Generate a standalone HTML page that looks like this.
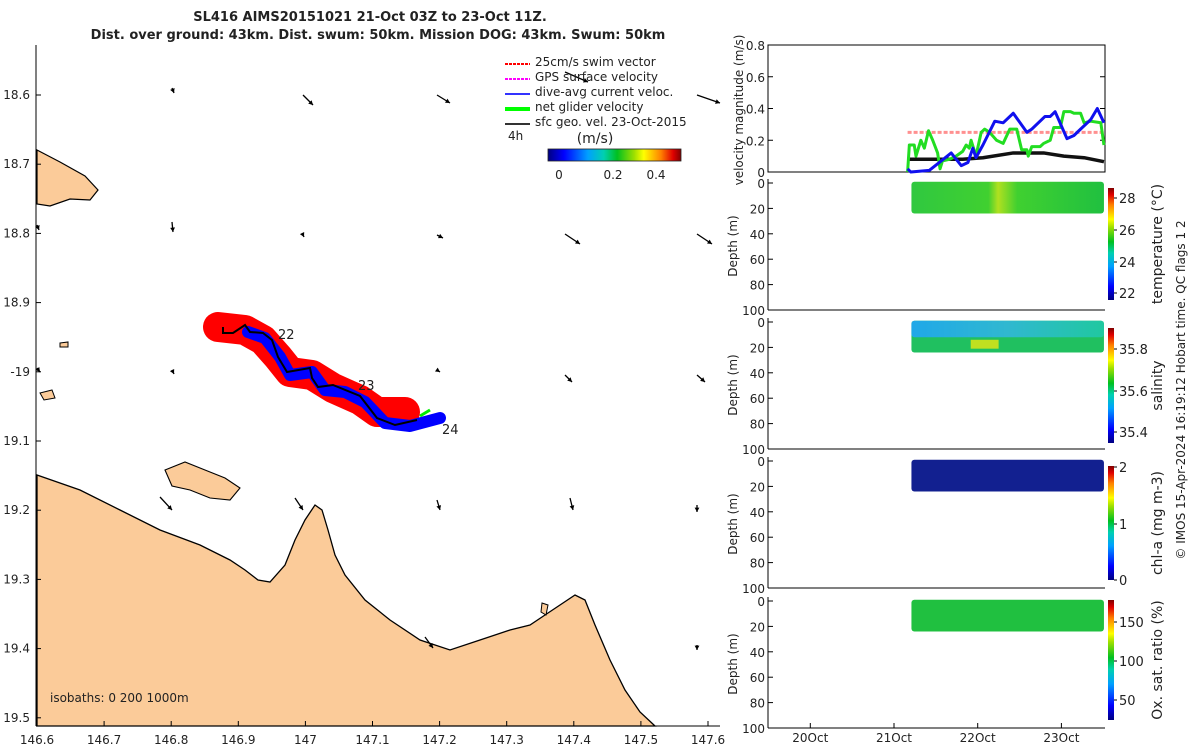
<!DOCTYPE html>
<html><head><meta charset="utf-8"><style>
body{margin:0;background:#fff;}
svg text{font-family:"DejaVu Sans","Liberation Sans",sans-serif;fill:#222;}
</style></head><body>
<svg id="s" width="1200" height="750" viewBox="0 0 1200 750" xmlns="http://www.w3.org/2000/svg">
<defs>
<linearGradient id="jetV" x1="0" y1="1" x2="0" y2="0">
<stop offset="0" stop-color="#000080"/><stop offset="0.12" stop-color="#0000ff"/><stop offset="0.3" stop-color="#00a0ff"/><stop offset="0.42" stop-color="#00d0b0"/><stop offset="0.52" stop-color="#00c020"/><stop offset="0.65" stop-color="#a0e000"/><stop offset="0.72" stop-color="#ffff00"/><stop offset="0.85" stop-color="#ff8000"/><stop offset="0.94" stop-color="#e00000"/><stop offset="1" stop-color="#800000"/></linearGradient>
<linearGradient id="jetH" x1="0" y1="0" x2="1" y2="0">
<stop offset="0" stop-color="#000080"/><stop offset="0.12" stop-color="#0000ff"/><stop offset="0.3" stop-color="#00a0ff"/><stop offset="0.42" stop-color="#00d0b0"/><stop offset="0.52" stop-color="#00c020"/><stop offset="0.65" stop-color="#a0e000"/><stop offset="0.72" stop-color="#ffff00"/><stop offset="0.85" stop-color="#ff8000"/><stop offset="0.94" stop-color="#e00000"/><stop offset="1" stop-color="#800000"/></linearGradient>
<linearGradient id="tempG" x1="0" y1="0" x2="1" y2="0"><stop offset="0" stop-color="#30c840"/><stop offset="0.4" stop-color="#40d030"/><stop offset="0.45" stop-color="#b0e020"/><stop offset="0.55" stop-color="#40d030"/><stop offset="1" stop-color="#20c040"/></linearGradient>
<linearGradient id="salTop" x1="0" y1="0" x2="1" y2="0"><stop offset="0" stop-color="#20a8e8"/><stop offset="0.5" stop-color="#30b8d0"/><stop offset="1" stop-color="#20c8a0"/></linearGradient>
</defs>
<g>
<text x="370" y="21" font-size="13" font-weight="bold" text-anchor="middle">SL416 AIMS20151021 21-Oct 03Z to 23-Oct 11Z.</text>
<text x="378" y="39" font-size="13" font-weight="bold" text-anchor="middle">Dist. over ground: 43km. Dist. swum: 50km. Mission DOG: 43km. Swum: 50km</text>
</g>
<g id="map">
<path fill="#fbcb99" stroke="#000" stroke-width="1.3" d="M37,475 L80,490 L120,510 L160,530 L200,545 L230,560 L245,570 L258,580 L270,582 L285,565 L295,540 L305,520 L315,505 L322,510 L328,530 L335,555 L345,575 L365,600 L390,620 L420,640 L450,650 L480,640 L510,630 L530,625 L545,615 L560,605 L575,595 L585,600 L595,625 L610,660 L625,690 L640,712 L655,726 L37,726 Z"/>
<path fill="#fbcb99" stroke="#000" stroke-width="1.2" d="M37,150 L60,162 L85,176 L98,190 L90,200 L70,199 L50,206 L37,204 Z"/>
<path fill="#fbcb99" stroke="#000" stroke-width="1.1" d="M165,470 L185,462 L205,470 L225,478 L240,488 L230,500 L210,498 L190,490 L172,486 Z"/>
<path fill="#fbcb99" stroke="#000" stroke-width="1" d="M40,393 L52,390 L55,398 L44,400 Z"/>
<path fill="#fbcb99" stroke="#000" stroke-width="1" d="M60,343 L68,342 L68,347 L60,347 Z"/>
<path fill="#fbcb99" stroke="#000" stroke-width="1" d="M542,603 L548,605 L546,615 L541,612 Z"/>
<g id="vecs"></g>
<g>
<polyline fill="none" stroke="#ff0000" stroke-width="30" stroke-linejoin="round" stroke-linecap="round" stroke-dasharray="none" points="218,327 245,330 263,340 278,357 290,372 312,375 333,388 360,400 377,412 405,412"/>
<polyline fill="none" stroke="#0000ff" stroke-width="12" stroke-linejoin="round" stroke-linecap="round" points="248,332 265,338 280,357 290,375 312,372 325,390 345,392 365,402 385,423 410,426 440,418"/>
<line x1="420" y1="416" x2="430" y2="410" stroke="#00ee00" stroke-width="3"/>
<polyline fill="none" stroke="#000" stroke-width="2" points="223,327 223,333 233,333 245,325 250,332 263,333 272,340 278,357 287,372 310,368 312,378 318,387 333,385 360,396 377,418 395,425 417,420"/>
<text x="278" y="339" font-size="13">22</text>
<text x="358" y="390" font-size="13">23</text>
<text x="442" y="434" font-size="13">24</text>
</g>
<line x1="36" y1="45" x2="36" y2="726" stroke="#000"/>
<line x1="36" y1="726" x2="720" y2="726" stroke="#000"/>
<g id="mapTicks"></g>
<text x="50" y="702" font-size="12">isobaths: 0   200  1000m</text>
<g>
<g><line x1="505" y1="64" x2="530" y2="64" stroke="#f00" stroke-width="2" stroke-dasharray="3,1"/><text x="535" y="66" font-size="12">25cm/s swim vector</text></g>
<g><line x1="505" y1="79" x2="530" y2="79" stroke="#f0f" stroke-width="2" stroke-dasharray="3,1"/><text x="535" y="81" font-size="12">GPS surface velocity</text></g>
<g><line x1="505" y1="94" x2="530" y2="94" stroke="#33f" stroke-width="2"/><text x="535" y="96" font-size="12">dive-avg current veloc.</text></g>
<g><line x1="505" y1="109" x2="530" y2="109" stroke="#0f0" stroke-width="4"/><text x="535" y="111" font-size="12">net glider velocity</text></g>
<g><line x1="505" y1="124" x2="530" y2="124" stroke="#333" stroke-width="2"/><text x="535" y="126" font-size="12">sfc geo. vel. 23-Oct-2015</text></g>
<text x="508" y="140" font-size="12">4h</text>
<text x="595" y="143" font-size="14" text-anchor="middle">(m/s)</text>
<rect x="548" y="149" width="133" height="12" fill="url(#jetH)" stroke="#222" stroke-width="0.8"/>
<text x="559" y="179" font-size="12" text-anchor="middle">0</text>
<text x="613" y="179" font-size="12" text-anchor="middle">0.2</text>
<text x="656" y="179" font-size="12" text-anchor="middle">0.4</text>
</g>
</g>
<g id="right"></g>
<text transform="translate(1185,390) rotate(-90)" font-size="12" text-anchor="middle">© IMOS 15-Apr-2024 16:19:12 Hobart time. QC flags 1  2</text>
</svg>
<script>
// Velocity panel data (hours since 21-Oct 00Z)
const greenHours=[3.9,4.4,5.8,6.3,7.7,8.7,9.9,11.1,12.5,13.2,13.9,15.9,17.8,19.7,20.7,21.6,22.1,23.5,25.0,26.0,27.4,29.4,31.3,33.2,35.2,36.6,38.1,38.5,39.5,41.9,42.9,44.8,45.8,47.7,48.7,50.6,51.6,53.5,54.5,56.4,59.3,60.2];
const greenVals=[0.0,0.17,0.17,0.1,0.2,0.15,0.26,0.2,0.12,0.02,0.07,0.08,0.1,0.13,0.17,0.15,0.2,0.1,0.25,0.27,0.25,0.2,0.18,0.27,0.27,0.14,0.14,0.1,0.16,0.16,0.18,0.2,0.28,0.28,0.38,0.38,0.37,0.37,0.31,0.32,0.31,0.17];
const blueHours=[3.9,4.8,10.1,13.0,16.4,19.3,21.2,22.6,23.5,25.5,28.9,31.3,34.2,38.1,39.5,43.3,44.8,46.2,49.6,51.6,53.5,56.4,58.3,60.2];
const blueVals=[0.02,0.0,0.01,0.06,0.12,0.04,0.06,0.15,0.09,0.17,0.32,0.31,0.37,0.25,0.27,0.35,0.35,0.38,0.21,0.23,0.27,0.33,0.4,0.31];
const blackHours=[3.9,19.7,25.5,34.2,42.9,48.7,54.5,60.2];
const blackVals=[0.08,0.08,0.09,0.12,0.12,0.1,0.09,0.065];
const swimHours=[3.9,60.2];
const swimVals=[0.25,0.25];
const velTicks=[0,0.2,0.4,0.6,0.8];
const dateLabels=["20Oct","21Oct","22Oct","23Oct"];
const dateOffsets=[-1,0,1,2];
const depthTicks=[0,20,40,60,80,100];
const mapLonTicks=[146.6,146.7,146.8,146.9,147,147.1,147.2,147.3,147.4,147.5,147.6];
const mapLatTicks=[18.6,18.7,18.8,18.9,19,19.1,19.2,19.3,19.4,19.5];

const NS="http://www.w3.org/2000/svg";
function mk(p,tag,attrs){const e=document.createElementNS(NS,tag);for(const k in attrs)e.setAttribute(k,attrs[k]);p.appendChild(e);return e;}
const mt=document.getElementById('mapTicks');
const lonX=v=>37+(v-146.6)*671;
const latY=v=>95+(v-18.6)*692;
mapLonTicks.forEach(v=>{const x=lonX(v);
 mk(mt,'line',{x1:x,y1:726,x2:x,y2:721,stroke:'#000'});
 const t=mk(mt,'text',{x:x,y:744,'font-size':12,'text-anchor':'middle'});t.textContent=(v===147?'147':v.toFixed(1));
 
 });
mapLatTicks.forEach(v=>{const y=latY(v);
 mk(mt,'line',{x1:36,y1:y,x2:41,y2:y,stroke:'#000'});
 const t=mk(mt,'text',{x:30,y:y+4,'font-size':12,'text-anchor':'end'});t.textContent=(v===19?'-19':v.toFixed(1));
 
 });
const vg=document.getElementById('vecs');
[[172,88,174,93],[303,95,313,105],[437,95,450,103],[565,72,588,82],[697,95,720,103],[37,225,39,230],[172,222,173,232],[303,235,304,237],[437,235,443,238],[565,234,580,244],[697,234,712,244],[37,368,40,372],[172,370,174,374],[437,370,440,372],[565,375,572,382],[697,375,705,382],[160,497,172,510],[295,498,303,510],[437,500,440,510],[570,498,573,510],[697,505,697,512],[425,637,433,648],[697,645,697,650]].forEach(a=>{
 const l=mk(vg,'line',{x1:a[0],y1:a[1],x2:a[2],y2:a[3],stroke:'#000','stroke-width':1.3});
 
 
 const ang=Math.atan2(a[3]-a[1],a[2]-a[0]);
 const h=mk(vg,'polygon',{points:`${a[2]},${a[3]} ${a[2]-5*Math.cos(ang-0.5)},${a[3]-5*Math.sin(ang-0.5)} ${a[2]-5*Math.cos(ang+0.5)},${a[3]-5*Math.sin(ang+0.5)}`,fill:'#000'});
 
 });

const R=document.getElementById('right');
const X0=768,X1=1105;
const xH=h=>894+h/24*83.7;
const vTop=45,vBot=172;
const yV=v=>vBot-v/0.8*(vBot-vTop);
const vp=mk(R,'g',{});


mk(vp,'rect',{x:X0,y:vTop,width:X1-X0,height:vBot-vTop,fill:'#fff',stroke:'#000','stroke-width':1});
velTicks.forEach(v=>{const y=yV(v);mk(vp,'line',{x1:X0,y1:y,x2:X0+5,y2:y,stroke:'#000'});mk(vp,'line',{x1:X1,y1:y,x2:X1-5,y2:y,stroke:'#000'});
 const t=mk(vp,'text',{x:X0-3,y:y+5,'font-size':12,'text-anchor':'end'});t.textContent=v===0?'0':v.toFixed(1);
 
 });
const yl=mk(vp,'text',{transform:`translate(743,110) rotate(-90)`,'font-size':12,'text-anchor':'middle',x:0,y:0});yl.textContent='velocity magnitude (m/s)';
function series(hs,vs,col,w,name,dash){const pl=mk(vp,'polyline',{points:hs.map((h,i)=>xH(h)+','+yV(vs[i])).join(' '),fill:'none',stroke:col,'stroke-width':w,'stroke-linejoin':'round'});if(dash)pl.setAttribute('stroke-dasharray',dash);
 
 }
series(swimHours,swimVals,'#ff9090',3,'swim-speed-line','4,2');
series(blackHours,blackVals,'#111',3.5,'surface-geo-velocity-line');
series(greenHours,greenVals,'#22dd22',3,'net-glider-velocity-line');
series(blueHours,blueVals,'#1010ee',3,'dive-avg-current-line');

const panels=[
 {top:183,name:'temperature',fill:'url(#tempG)',label:'temperature (°C)',ticks:[['28',198],['26',230],['24',262],['22',293]],cb:[188,300]},
 {top:322,name:'salinity',fill:'sal',label:'salinity',ticks:[['35.8',349],['35.6',391],['35.4',432]],cb:[328,443]},
 {top:461,name:'chlorophyll',fill:'#122090',label:'chl-a (mg m-3)',ticks:[['2',467],['1',524],['0',580]],cb:[466,580]},
 {top:601,name:'oxygen-saturation',fill:'#20c040',label:'Ox. sat. ratio (%)',ticks:[['150',622],['100',661],['50',700]],cb:[600,720]}
];
const dStart=5,dEnd=60.2;
panels.forEach(p=>{
 const g=mk(R,'g',{});
 
 
 const top=p.top,bot=top+127;const yD=d=>top+d/100*(bot-top);
 const bx=xH(dStart),bw=xH(dEnd)-bx;
 if(p.fill==='sal'){mk(g,'rect',{x:bx,y:yD(-1),width:bw,height:yD(24)-yD(-1),fill:'#20c060',rx:3});
  mk(g,'rect',{x:bx,y:yD(-1),width:bw,height:yD(12)-yD(-1),fill:'url(#salTop)',rx:3});
  mk(g,'rect',{x:xH(22),y:yD(14),width:xH(30)-xH(22),height:yD(21)-yD(14),fill:'#c0e020'});}
 else mk(g,'rect',{x:bx,y:yD(-1),width:bw,height:yD(24)-yD(-1),fill:p.fill,rx:3});
 mk(g,'line',{x1:X0,y1:top-4,x2:X0,y2:bot,stroke:'#000'});mk(g,'line',{x1:X0,y1:bot,x2:X1,y2:bot,stroke:'#000'});
 depthTicks.forEach(d=>{const y=yD(d);mk(g,'line',{x1:X0,y1:y,x2:X0+5,y2:y,stroke:'#000'});
  const t=mk(g,'text',{x:X0-3,y:y+5,'font-size':12,'text-anchor':'end'});t.textContent=d;
  
  });
 const lt=mk(g,'text',{transform:`translate(737,${top+63}) rotate(-90)`,'font-size':12,'text-anchor':'middle'});lt.textContent='Depth (m)';
 const cb=mk(g,'rect',{x:1108,y:p.cb[0],width:6,height:p.cb[1]-p.cb[0],fill:'url(#jetV)'});
 
 
 p.ticks.forEach(t=>{mk(g,'line',{x1:1114,y1:t[1],x2:1117,y2:t[1],stroke:'#000'});const tx=mk(g,'text',{x:1119,y:t[1]+5,'font-size':13});tx.textContent=t[0];});
 const cl=mk(g,'text',{transform:`translate(1162,${(p.cb[0]+p.cb[1])/2}) rotate(-90)`,'font-size':14,'text-anchor':'middle'});cl.textContent=p.label;
});
dateLabels.forEach((s,i)=>{const x=xH(dateOffsets[i]*24);mk(R,'line',{x1:x,y1:728,x2:x,y2:723,stroke:'#000'});
 const t=mk(R,'text',{x:x,y:742,'font-size':12,'text-anchor':'middle'});t.textContent=s;
 
 });
</script>
</body></html>
